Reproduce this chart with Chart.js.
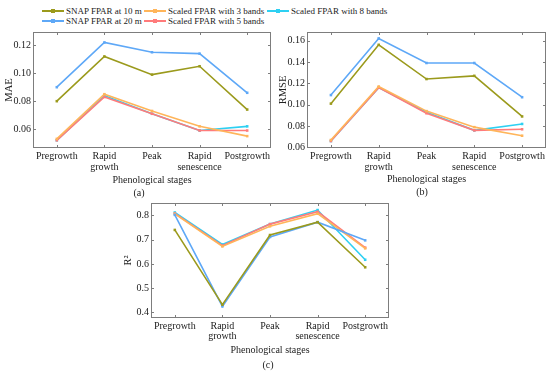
<!DOCTYPE html>
<html>
<head>
<meta charset="utf-8">
<script src="https://cdn.jsdelivr.net/npm/chart.js@4.4.1/dist/chart.umd.min.js"></script>
<style>
  body { margin: 0; background: #fff; }
  #wrap { position: relative; width: 550px; height: 372px; overflow: hidden; font-family: "Liberation Serif", "Times New Roman", Times, Tinos, "Nimbus Roman", serif; color: #222; }
  canvas { position: absolute; }
  .lg { position: absolute; font-size: 9px; white-space: nowrap; line-height: 10px; }
  .lg .ln { position: absolute; left: 0; top: 4px; width: 22px; height: 2px; }
  .lg .mk { position: absolute; left: 9px; top: 3px; width: 4px; height: 4px; }
  .lg .tx { position: absolute; left: 24px; top: 0; }
  .cap { position: absolute; font-size: 10px; transform: translate(-50%, -50%); }
</style>
</head>
<body>
<div id="wrap">
  <div id="legend"></div>
  <canvas id="cA" width="275" height="176" style="left:0;top:24px"></canvas>
  <canvas id="cB" width="275" height="176" style="left:275px;top:24px"></canvas>
  <canvas id="cC" width="275" height="177" style="left:120px;top:195px"></canvas>
  <div class="cap" style="left:139px;top:192px">(a)</div>
  <div class="cap" style="left:422px;top:191px">(b)</div>
  <div class="cap" style="left:268px;top:364px">(c)</div>
</div>
<script>
// stages on the x axis
const stages = ['Pregrowth', ['Rapid', 'growth'], 'Peak', ['Rapid', 'senescence'], 'Postgrowth'];

const seriesNames = ['SNAP FPAR at 10 m', 'SNAP FPAR at 20 m', 'Scaled FPAR with 3 bands', 'Scaled FPAR with 5 bands', 'Scaled FPAR with 8 bands'];
const seriesColors = ['#9b9a1c', '#5ea8f7', '#ffb55a', '#ff7b7b', '#2ed0f2'];

// (a) MAE
const maeSnap10 = [0.080, 0.112, 0.099, 0.105, 0.074];
const maeSnap20 = [0.090, 0.122, 0.115, 0.114, 0.086];
const maeBands3 = [0.053, 0.085, 0.073, 0.062, 0.055];
const maeBands5 = [0.052, 0.083, 0.071, 0.059, 0.059];
const maeBands8 = [0.052, 0.084, 0.071, 0.059, 0.062];
const maeTicks = [0.06, 0.08, 0.10, 0.12];

// (b) RMSE
const rmseSnap10 = [0.101, 0.156, 0.124, 0.127, 0.089];
const rmseSnap20 = [0.109, 0.162, 0.139, 0.139, 0.107];
const rmseBands3 = [0.067, 0.117, 0.094, 0.079, 0.071];
const rmseBands5 = [0.066, 0.116, 0.092, 0.076, 0.077];
const rmseBands8 = [0.066, 0.116, 0.093, 0.076, 0.082];
const rmseTicks = [0.06, 0.08, 0.10, 0.12, 0.14, 0.16];

// (c) R2
const r2Snap10 = [0.740, 0.432, 0.719, 0.772, 0.586];
const r2Snap20 = [0.802, 0.425, 0.711, 0.772, 0.697];
const r2Bands3 = [0.806, 0.672, 0.755, 0.807, 0.664];
const r2Bands5 = [0.808, 0.675, 0.764, 0.815, 0.667];
const r2Bands8 = [0.812, 0.680, 0.764, 0.822, 0.617];
const r2Ticks = [0.4, 0.5, 0.6, 0.7, 0.8];

const serif = '"Liberation Serif", "Times New Roman", Times, Tinos, "Nimbus Roman", serif';
const frameColor = '#7d7d7d';

// box around the plot with inward ticks on all four sides
const framePlugin = {
  id: 'frame',
  afterDraw(chart) {
    const { ctx, chartArea: a, scales } = chart;
    ctx.save();
    ctx.strokeStyle = frameColor;
    ctx.lineWidth = 1;
    ctx.strokeRect(a.left + 0.5, a.top + 0.5, a.right - a.left - 1, a.bottom - a.top - 1);
    ctx.beginPath();
    scales.x.ticks.forEach((t, i) => {
      const px = Math.round(scales.x.getPixelForTick(i)) + 0.5;
      ctx.moveTo(px, a.top); ctx.lineTo(px, a.top + 3);
      ctx.moveTo(px, a.bottom); ctx.lineTo(px, a.bottom - 3);
    });
    scales.y.ticks.forEach(t => {
      const py = Math.round(scales.y.getPixelForValue(t.value)) + 0.5;
      ctx.moveTo(a.left, py); ctx.lineTo(a.left + 3, py);
      ctx.moveTo(a.right, py); ctx.lineTo(a.right - 3, py);
    });
    ctx.stroke();
    ctx.restore();
  }
};

function makeChart(id, series, cfg) {
  const datasets = series.map((vals, i) => ({
    label: seriesNames[i],
    data: vals,
    borderColor: seriesColors[i],
    backgroundColor: seriesColors[i],
    borderWidth: 1.6,
    pointStyle: 'rect',
    pointRadius: 1.8,
    pointBorderWidth: 0,
    tension: 0
  }));
  return new Chart(document.getElementById(id), {
    type: 'line',
    data: { labels: stages, datasets },
    options: {
      responsive: false,
      animation: false,
      devicePixelRatio: 1,
      layout: { padding: { top: cfg.padTop, right: cfg.padRight, left: 0, bottom: 0 } },
      plugins: { legend: { display: false }, tooltip: { enabled: false } },
      scales: {
        x: {
          type: 'category',
          offset: true,
          grid: { display: false, drawTicks: false },
          border: { display: false },
          ticks: { color: '#222', padding: cfg.xTickPad, maxRotation: 0, autoSkip: false, font: { family: serif, size: 10, lineHeight: 1.05 } },
          title: { display: true, text: 'Phenological stages', color: '#222', font: { family: serif, size: 10, lineHeight: 1.1 }, padding: { top: 0, bottom: cfg.xTitlePad } },
          afterFit: s => { s.height = cfg.xHeight; }
        },
        y: {
          min: cfg.yMin,
          max: cfg.yMax,
          grid: { display: false, drawTicks: false },
          border: { display: false },
          afterBuildTicks: s => { s.ticks = cfg.yTicks.map(v => ({ value: v })); },
          ticks: { color: '#222', padding: 2, font: { family: serif, size: 10 }, callback: v => Number(v).toFixed(cfg.digits) },
          title: { display: true, text: cfg.yTitle, color: '#222', font: { family: serif, size: 10.5, lineHeight: 1.1 }, padding: { top: cfg.yTitlePad, bottom: 0 } },
          afterFit: s => { s.width = cfg.yWidth; }
        }
      }
    },
    plugins: [framePlugin]
  });
}

makeChart('cA', [maeSnap10, maeSnap20, maeBands3, maeBands5, maeBands8], {
  yMin: 0.0465, yMax: 0.1295, yTicks: maeTicks, digits: 2, yTitle: 'MAE',
  padTop: 8, padRight: 2, yWidth: 33, xHeight: 52, xTickPad: 3.5, xTitlePad: 14.5, yTitlePad: 3
});

makeChart('cB', [rmseSnap10, rmseSnap20, rmseBands3, rmseBands5, rmseBands8], {
  yMin: 0.0595, yMax: 0.168, yTicks: rmseTicks, digits: 2, yTitle: 'RMSE',
  padTop: 8, padRight: 2, yWidth: 32, xHeight: 52, xTickPad: 3.5, xTitlePad: 15, yTitlePad: 2
});

makeChart('cC', [r2Snap10, r2Snap20, r2Bands3, r2Bands5, r2Bands8], {
  yMin: 0.377, yMax: 0.851, yTicks: r2Ticks, digits: 1, yTitle: 'R²',
  padTop: 6, padRight: 6, yWidth: 31, xHeight: 54, xTickPad: 3, xTitlePad: 16.5, yTitlePad: 2.5
});

// legend laid out in columns, two rows
const legendCols = [42, 144, 267];
const legendRows = [6, 16];
const legend = document.getElementById('legend');
seriesNames.forEach((name, i) => {
  const col = Math.floor(i / 2), row = i % 2;
  const el = document.createElement('div');
  el.className = 'lg';
  el.style.left = legendCols[col] + 'px';
  el.style.top = legendRows[row] + 'px';
  el.innerHTML = `<span class="ln" style="background:${seriesColors[i]}"></span>` +
    `<span class="mk" style="background:${seriesColors[i]}"></span>` +
    `<span class="tx">${name}</span>`;
  legend.appendChild(el);
});
</script>
</body>
</html>
